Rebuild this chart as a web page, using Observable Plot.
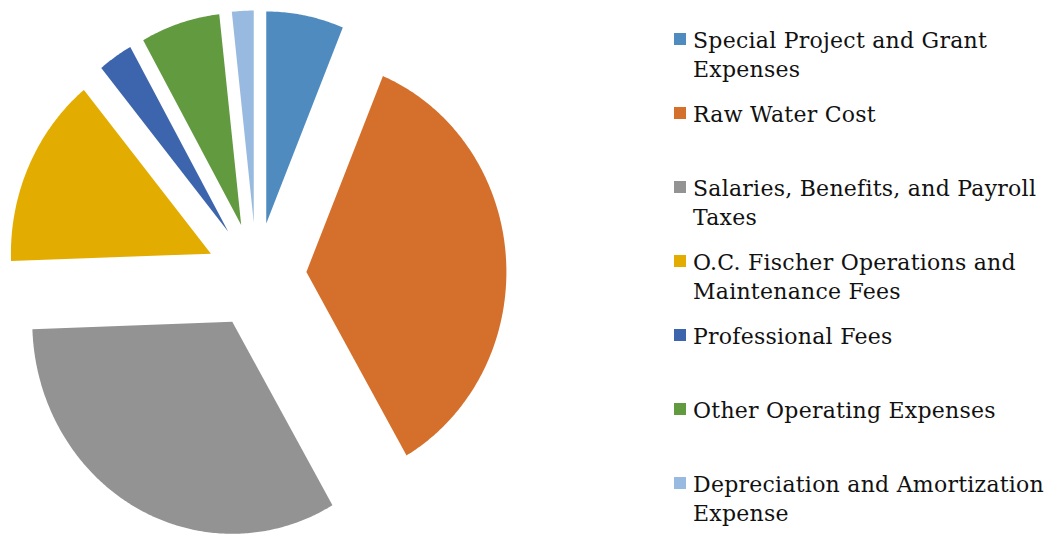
<!DOCTYPE html>
<html>
<head>
<meta charset="utf-8">
<script src="https://cdn.jsdelivr.net/npm/d3@7"></script>
<script src="https://cdn.jsdelivr.net/npm/@observablehq/plot@0.6"></script>
<style>
  html, body { margin: 0; padding: 0; background: #fff; }
  #wrap { position: relative; width: 1052px; height: 534px; overflow: hidden; }
  #chart { position: absolute; left: 0; top: 0; }
  .item { position: absolute; left: 674px; font-family: "DejaVu Serif", serif; font-size: 22px; letter-spacing: 0.25px; line-height: 29px; color: #111; white-space: pre; }
  .sw { position: absolute; left: 0; width: 12px; height: 12px; }
  .lbl { position: absolute; left: 19px; top: 0; }
</style>
</head>
<body>
<div id="wrap"><div id="chart"></div><div id="legend"></div></div>
<script>
// Categories (legend order = slice order, clockwise from 12 o'clock)
const categories = [
  "Special Project and Grant\nExpenses",
  "Raw Water Cost",
  "Salaries, Benefits, and Payroll\nTaxes",
  "O.C. Fischer Operations and\nMaintenance Fees",
  "Professional Fees",
  "Other Operating Expenses",
  "Depreciation and Amortization\nExpense"
];
// Share of total (%)
const shares = [6.25, 35.4, 32.8, 14.6, 2.8, 6.4, 1.75];
const colors = ["#4F8BBF", "#D4702B", "#939393", "#E3AC00", "#3C65AD", "#629A40", "#99BAE0"];

const explode = 0.25; // slice explosion, fraction of radius

const arcs = d3.pie().sort(null).value(d => d)(shares);
const pts = [];
arcs.forEach((a, i) => {
  const mid = (a.startAngle + a.endAngle) / 2;
  const ox = explode * Math.sin(mid), oy = explode * Math.cos(mid);
  const name = categories[i];
  pts.push({name, x: ox, y: oy});
  const n = Math.max(4, Math.ceil((a.endAngle - a.startAngle) / 0.01));
  for (let k = 0; k <= n; k++) {
    const t = a.startAngle + (a.endAngle - a.startAngle) * k / n;
    pts.push({name, x: ox + Math.sin(t), y: oy + Math.cos(t)});
  }
});

const W = 660, H = 534;
const chart = Plot.plot({
  width: W,
  height: H,
  margin: 0,
  x: {domain: [-1.28, 2.02], axis: null},
  y: {domain: [-1.222, 1.297], axis: null},
  color: {domain: categories, range: colors},
  marks: [
    Plot.line(pts, {x: "x", y: "y", z: "name", fill: "name", stroke: "none", curve: "linear-closed"})
  ]
});
document.getElementById("chart").appendChild(chart);

const legend = document.getElementById("legend");
categories.forEach((c, i) => {
  const it = document.createElement("div");
  it.className = "item";
  it.style.top = (26 + 74 * i) + "px";
  const sw = document.createElement("div");
  sw.className = "sw";
  sw.style.background = colors[i];
  sw.style.top = "7px";
  const lb = document.createElement("div");
  lb.className = "lbl";
  lb.textContent = c;
  it.appendChild(sw);
  it.appendChild(lb);
  legend.appendChild(it);
});
</script>
</body>
</html>
